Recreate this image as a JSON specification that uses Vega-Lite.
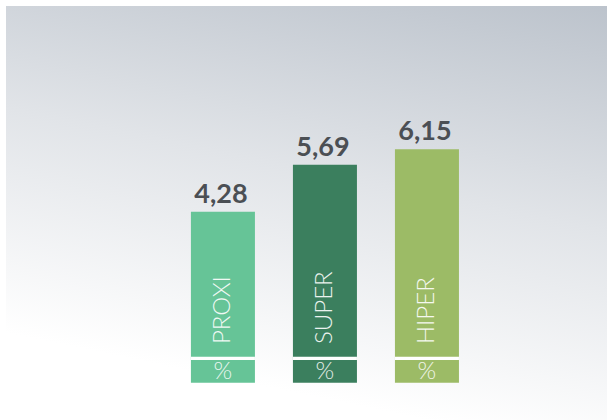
{
  "$schema": "https://vega.github.io/schema/vega-lite/v6.json",
  "autosize": {"type": "fit", "contains": "padding"},
  "width": 607,
  "height": 420,
  "padding": {"left": 6, "top": 6, "right": 0, "bottom": 0},
  "background": "#ffffff",
  "config": {
    "view": {
      "stroke": null,
      "fill": {
        "gradient": "linear",
        "x1": 1, "y1": 0, "x2": 0.7, "y2": 1,
        "stops": [
          {"offset": 0, "color": "#bcc3cc"},
          {"offset": 0.5, "color": "#e1e4e8"},
          {"offset": 1, "color": "#ffffff"}
        ]
      }
    }
  },
  "data": {
    "values": [
      {"cat": "PROXI", "value": 4.28, "label": "4,28"},
      {"cat": "SUPER", "value": 5.69, "label": "5,69"},
      {"cat": "HIPER", "value": 6.15, "label": "6,15"}
    ]
  },
  "encoding": {
    "x": {
      "field": "cat",
      "type": "nominal",
      "axis": null,
      "scale": {"domain": ["_left", "PROXI", "SUPER", "HIPER", "_right"], "paddingInner": 0.3725, "paddingOuter": 0.632, "align": 0.643}
    }
  },
  "layer": [
    {
      "mark": {"type": "bar"},
      "encoding": {
        "y": {
          "field": "value",
          "type": "quantitative",
          "axis": null,
          "scale": {"domain": [-1.955, 10.44], "nice": false, "zero": false}
        },
        "y2": {"datum": -0.838},
        "color": {
          "field": "cat",
          "type": "nominal",
          "legend": null,
          "scale": {"domain": ["PROXI", "SUPER", "HIPER"], "range": ["#66c497", "#3b7f5e", "#9cbb66"]}
        }
      }
    },
    {
      "mark": {"type": "bar", "color": "#ffffff"},
      "encoding": {
        "y": {"datum": -0.06, "type": "quantitative"},
        "y2": {"datum": -0.159}
      }
    },
    {
      "mark": {"type": "text", "baseline": "alphabetic", "align": "center", "dy": -9, "dx": -2, "font": "Lato", "fontWeight": "bold", "fontSize": 27, "color": "#4b4f54"},
      "encoding": {
        "y": {"field": "value", "type": "quantitative"},
        "text": {"field": "label"}
      }
    },
    {
      "mark": {"type": "text", "angle": 270, "align": "left", "baseline": "middle", "font": "Lato", "fontWeight": 300, "fontSize": 24, "color": "#ffffff", "opacity": 0.9},
      "encoding": {
        "y": {"datum": 0.32, "type": "quantitative"},
        "text": {"field": "cat"}
      }
    },
    {
      "mark": {"type": "text", "align": "center", "baseline": "middle", "font": "Lato", "fontWeight": 300, "fontSize": 24, "color": "#ffffff", "opacity": 0.85},
      "encoding": {
        "y": {"datum": -0.518, "type": "quantitative"},
        "text": {"value": "%"}
      }
    }
  ]
}
